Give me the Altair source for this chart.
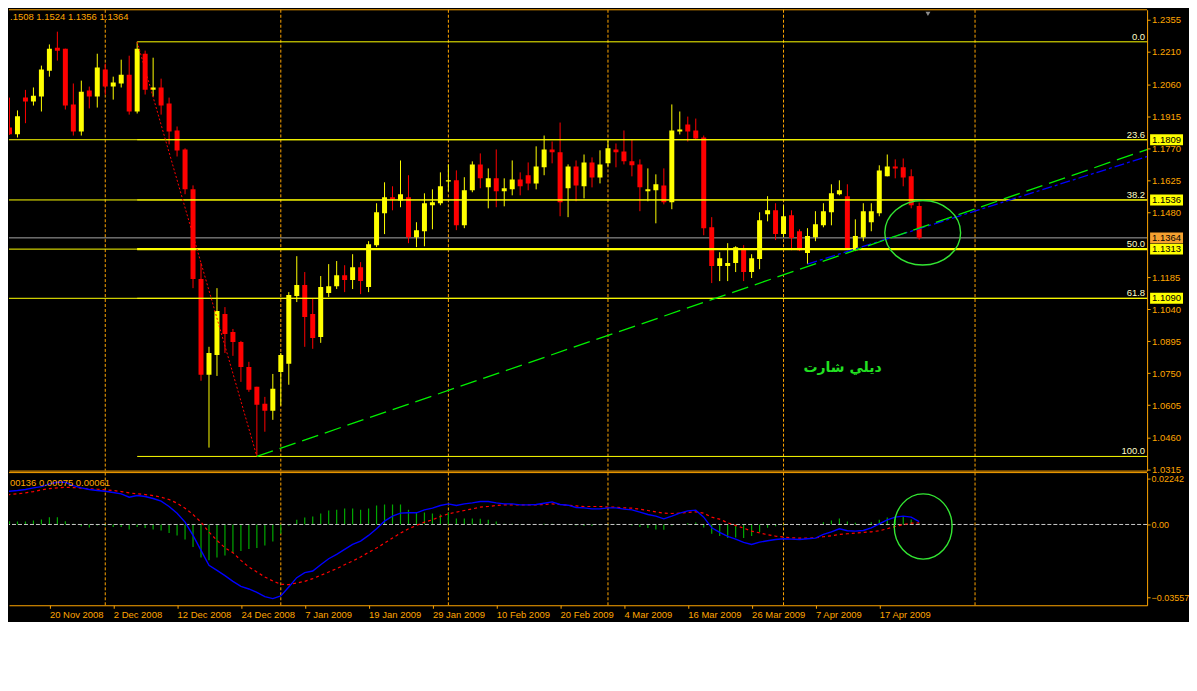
import altair as alt
import pandas as pd

ORANGE = "#FFA500"
YELLOW = "#FFFF00"
RED = "#FF0000"
GREEN = "#33E633"
FONT = "Liberation Sans"

# ---------------- data ----------------
dates = [d for d in pd.bdate_range("2008-11-12", "2009-04-24")
         if d.strftime("%m-%d") not in ("12-25", "01-01")]

opens = [
    1.1880, 1.1865, 1.1834, 1.2000, 1.1982, 1.2005, 1.2122, 1.2226, 1.2222, 1.1969,
    1.1846, 1.2032, 1.2005, 1.2127, 1.2050, 1.2064, 1.2104, 1.1937, 1.2199, 1.2036,
    1.2046, 1.1973, 1.1851, 1.1765, 1.1584, 1.1177, 1.0743, 1.0833, 1.1019, 1.0937,
    1.0892, 1.0779, 1.0689, 1.0612, 1.0580, 1.0756, 1.0793, 1.1100, 1.1150, 1.1019,
    1.0915, 1.1114, 1.1145, 1.1195, 1.1173, 1.1231, 1.1141, 1.1331, 1.1476, 1.1548,
    1.1534, 1.1548, 1.1367, 1.1394, 1.1512, 1.1521, 1.1620, 1.1625, 1.1421, 1.1580,
    1.1697, 1.1593, 1.1634, 1.1575, 1.1584, 1.1629, 1.1648, 1.1611, 1.1684, 1.1765,
    1.1752, 1.1589, 1.1688, 1.1598, 1.1706, 1.1638, 1.1702, 1.1765, 1.1756, 1.1711,
    1.1697, 1.1575, 1.1580, 1.1602, 1.1525, 1.1846, 1.1878, 1.1851, 1.1819, 1.1412,
    1.1236, 1.1236, 1.1250, 1.1317, 1.1209, 1.1268, 1.1471, 1.1489, 1.1381, 1.1467,
    1.1394, 1.1295, 1.1367, 1.1421, 1.1480, 1.1562, 1.1553, 1.1308, 1.1367, 1.1435,
    1.1476, 1.1643, 1.1688, 1.1684, 1.1643, 1.1508]
highs = [
    1.1900, 1.2000, 1.1942, 1.2035, 1.2046, 1.2145, 1.2241, 1.2299, 1.2222, 1.2064,
    1.2077, 1.2050, 1.2199, 1.2154, 1.2095, 1.2172, 1.2190, 1.2253, 1.2213, 1.2181,
    1.2086, 1.2000, 1.1869, 1.1770, 1.1602, 1.1250, 1.0870, 1.1136, 1.1050, 1.0951,
    1.0897, 1.0802, 1.0689, 1.0643, 1.0747, 1.0842, 1.1118, 1.1281, 1.1209, 1.1087,
    1.1191, 1.1245, 1.1259, 1.1240, 1.1290, 1.1254, 1.1349, 1.1521, 1.1616, 1.1598,
    1.1715, 1.1648, 1.1435, 1.1566, 1.1584, 1.1661, 1.1697, 1.1670, 1.1639, 1.1711,
    1.1747, 1.1679, 1.1765, 1.1634, 1.1715, 1.1661, 1.1706, 1.1779, 1.1828, 1.1801,
    1.1887, 1.1697, 1.1715, 1.1742, 1.1729, 1.1761, 1.1806, 1.1792, 1.1851, 1.1810,
    1.1720, 1.1679, 1.1652, 1.1679, 1.1969, 1.1937, 1.1914, 1.1905, 1.1828, 1.1458,
    1.1299, 1.1340, 1.1326, 1.1331, 1.1290, 1.1480, 1.1553, 1.1521, 1.1512, 1.1489,
    1.1403, 1.1408, 1.1485, 1.1521, 1.1607, 1.1625, 1.1607, 1.1448, 1.1521, 1.1521,
    1.1693, 1.1742, 1.1720, 1.1724, 1.1675, 1.1524]
lows = [
    1.1756, 1.1831, 1.1819, 1.1884, 1.1964, 1.1937, 1.2095, 1.2168, 1.1946, 1.1828,
    1.1828, 1.1951, 1.1955, 1.2014, 1.1991, 1.2046, 1.1923, 1.1928, 1.2014, 1.2005,
    1.1923, 1.1788, 1.1733, 1.1562, 1.1136, 1.0716, 1.0413, 1.0738, 1.0842, 1.0829,
    1.0711, 1.0666, 1.0373, 1.0485, 1.0539, 1.0603, 1.0698, 1.1073, 1.0870, 1.0861,
    1.0888, 1.1096, 1.1132, 1.1118, 1.1132, 1.1109, 1.1118, 1.1322, 1.1381, 1.1489,
    1.1503, 1.1340, 1.1322, 1.1326, 1.1403, 1.1512, 1.1575, 1.1399, 1.1408, 1.1571,
    1.1589, 1.1498, 1.1503, 1.1507, 1.1557, 1.1557, 1.1580, 1.1584, 1.1648, 1.1702,
    1.1462, 1.1458, 1.1530, 1.1543, 1.1593, 1.1611, 1.1688, 1.1684, 1.1697, 1.1643,
    1.1485, 1.1530, 1.1430, 1.1516, 1.1494, 1.1833, 1.1801, 1.1810, 1.1376, 1.1159,
    1.1168, 1.1168, 1.1209, 1.1168, 1.1182, 1.1222, 1.1439, 1.1354, 1.1367, 1.1308,
    1.1304, 1.1245, 1.1349, 1.1412, 1.1421, 1.1557, 1.1308, 1.1304, 1.1349, 1.1394,
    1.1462, 1.1643, 1.1634, 1.1598, 1.1498, 1.1356]
closes = [
    1.1862, 1.1834, 1.1915, 1.1982, 1.2009, 1.2127, 1.2222, 1.2213, 1.1964, 1.1846,
    1.2027, 1.2005, 1.2136, 1.2050, 1.2068, 1.2104, 1.1937, 1.2222, 1.2036, 1.2046,
    1.1964, 1.1846, 1.1760, 1.1584, 1.1177, 1.0743, 1.0842, 1.1032, 1.0928, 1.0892,
    1.0779, 1.0675, 1.0607, 1.0580, 1.0680, 1.0833, 1.1105, 1.1150, 1.1005, 1.0910,
    1.1141, 1.1145, 1.1195, 1.1173, 1.1231, 1.1168, 1.1335, 1.1480, 1.1548, 1.1539,
    1.1562, 1.1367, 1.1399, 1.1521, 1.1525, 1.1598, 1.1625, 1.1421, 1.1580, 1.1697,
    1.1634, 1.1634, 1.1575, 1.1589, 1.1629, 1.1598, 1.1611, 1.1688, 1.1765, 1.1752,
    1.1525, 1.1688, 1.1602, 1.1706, 1.1638, 1.1697, 1.1770, 1.1752, 1.1711, 1.1693,
    1.1593, 1.1584, 1.1607, 1.1525, 1.1851, 1.1855, 1.1846, 1.1815, 1.1408, 1.1236,
    1.1272, 1.1250, 1.1322, 1.1209, 1.1272, 1.1444, 1.1489, 1.1381, 1.1462, 1.1363,
    1.1308, 1.1372, 1.1426, 1.1485, 1.1566, 1.1580, 1.1313, 1.1372, 1.1485, 1.1485,
    1.1670, 1.1688, 1.1679, 1.1638, 1.1512, 1.1364]

macd = [
    0.01614, 0.01630, 0.01663, 0.01712, 0.01793, 0.01858, 0.01989, 0.02070, 0.02070, 0.01907,
    0.01793, 0.01712, 0.01663, 0.01630, 0.01565, 0.01500, 0.01337, 0.01418, 0.01369, 0.01271,
    0.01141, 0.00880, 0.00554, 0.00114, -0.00538, -0.01271, -0.02005, -0.02249, -0.02510, -0.02787,
    -0.03032, -0.03162, -0.03325, -0.03537, -0.03635, -0.03505, -0.03064, -0.02608, -0.02364, -0.02282,
    -0.01972, -0.01679, -0.01467, -0.01223, -0.00978, -0.00815, -0.00538, -0.00212, 0.00163, 0.00408,
    0.00554, 0.00571, 0.00571, 0.00717, 0.00799, 0.00929, 0.01011, 0.00929, 0.01011, 0.01060,
    0.01125, 0.01125, 0.01060, 0.01011, 0.01011, 0.00962, 0.00962, 0.00978, 0.01043, 0.01108,
    0.00978, 0.00945, 0.00831, 0.00815, 0.00766, 0.00766, 0.00815, 0.00815, 0.00750, 0.00717,
    0.00603, 0.00489, 0.00408, 0.00277, 0.00408, 0.00554, 0.00668, 0.00701, 0.00359, -0.00163,
    -0.00391, -0.00587, -0.00717, -0.00880, -0.00978, -0.00864, -0.00799, -0.00734, -0.00701, -0.00717,
    -0.00734, -0.00701, -0.00668, -0.00489, -0.00359, -0.00212, -0.00310, -0.00326, -0.00293, -0.00163,
    0.00033, 0.00228, 0.00359, 0.00408, 0.00359, 0.00136]
signal = [
    0.01418, 0.01467, 0.01500, 0.01549, 0.01614, 0.01695, 0.01760, 0.01793, 0.01826, 0.01809,
    0.01777, 0.01744, 0.01728, 0.01695, 0.01663, 0.01614, 0.01549, 0.01500, 0.01467, 0.01418,
    0.01337, 0.01223, 0.01043, 0.00799, 0.00489, 0.00114, -0.00375, -0.00782, -0.01141, -0.01386,
    -0.01760, -0.02086, -0.02331, -0.02575, -0.02771, -0.02934, -0.02950, -0.02869, -0.02787, -0.02657,
    -0.02494, -0.02331, -0.02168, -0.01972, -0.01793, -0.01597, -0.01369, -0.01157, -0.00913, -0.00668,
    -0.00424, -0.00212, -0.00049, 0.00114, 0.00228, 0.00391, 0.00522, 0.00603, 0.00685, 0.00766,
    0.00848, 0.00880, 0.00929, 0.00962, 0.00962, 0.00962, 0.00962, 0.00962, 0.00978, 0.01011,
    0.00978, 0.00945, 0.00913, 0.00880, 0.00880, 0.00880, 0.00848, 0.00848, 0.00815, 0.00799,
    0.00750, 0.00685, 0.00619, 0.00554, 0.00538, 0.00554, 0.00587, 0.00619, 0.00554, 0.00359,
    0.00261, 0.00082, -0.00049, -0.00179, -0.00326, -0.00408, -0.00505, -0.00571, -0.00619, -0.00652,
    -0.00668, -0.00668, -0.00652, -0.00603, -0.00554, -0.00489, -0.00456, -0.00424, -0.00391, -0.00359,
    -0.00310, -0.00212, -0.00098, 0.00000, 0.00065, 0.00075]
hist = [
    0.00196, 0.00163, 0.00147, 0.00147, 0.00196, 0.00245, 0.00359, 0.00359, 0.00163, 0.00033,
    -0.00082, -0.00147, -0.00049, -0.00065, -0.00130, -0.00130, -0.00245, -0.00130, -0.00179, -0.00245,
    -0.00293, -0.00424, -0.00538, -0.00734, -0.01108, -0.01614, -0.01760, -0.01614, -0.01516, -0.01402,
    -0.01304, -0.01206, -0.01157, -0.01027, -0.00831, -0.00456, -0.00065, 0.00228, 0.00342, 0.00391,
    0.00538, 0.00685, 0.00717, 0.00782, 0.00782, 0.00717, 0.00782, 0.00929, 0.00978, 0.00978,
    0.00978, 0.00717, 0.00587, 0.00587, 0.00538, 0.00489, 0.00587, 0.00293, 0.00293, 0.00293,
    0.00277, 0.00228, 0.00147, 0.00033, 0.00033, 0.00016, 0.00000, 0.00000, 0.00033, 0.00033,
    -0.00016, -0.00016, -0.00049, -0.00065, -0.00065, -0.00033, -0.00033, -0.00016, -0.00016, -0.00049,
    -0.00130, -0.00179, -0.00245, -0.00261, -0.00049, 0.00000, 0.00065, 0.00098, -0.00147, -0.00456,
    -0.00571, -0.00668, -0.00636, -0.00668, -0.00571, -0.00375, -0.00163, -0.00082, -0.00033, 0.00000,
    -0.00033, 0.00000, 0.00000, 0.00114, 0.00196, 0.00293, 0.00147, 0.00082, 0.00000, 0.00114,
    0.00228, 0.00342, 0.00300, 0.00408, 0.00245, 0.00061]

# Fibonacci retracement (anchored on bar 17 high -> bar 32 low)
fib_levels = ["0.0", "23.6", "38.2", "50.0", "61.8", "100.0"]
fib_prices = [1.2253, 1.1809, 1.1536, 1.1313, 1.1090, 1.0373]
fib_anchor_bars = [17, 32]
# user horizontal lines
hline_prices = [1.1809, 1.1536, 1.1313, 1.1090]
current_price = 1.1364
last_ohlc = [1.1508, 1.1524, 1.1356, 1.1364]
last_macd = [0.00136, 0.00075, 0.00061]
# trend lines (bar index, price)
green_bars = [32, 144]
green_prices = [1.0373, 1.1770]
blue_bars = [101, 144]
blue_prices = [1.1245, 1.1738]
# month separators (bar index)
grid_bars = [13, 35, 56, 76, 98, 122]
# x labels every 8 bars
label_bars = list(range(6, 111, 8))
label_text = [f"{dates[b].day} {dates[b].strftime('%b %Y')}" for b in label_bars]
price_ticks = [1.2355, 1.2210, 1.2060, 1.1915, 1.1770, 1.1625, 1.1480,
               1.1185, 1.1040, 1.0895, 1.0750, 1.0605, 1.0460, 1.0315]
macd_ticks = [0.02242, 0.0, -0.03557]

df = pd.DataFrame({"i": list(range(len(dates))), "open": opens, "high": highs,
                   "low": lows, "close": closes, "macd": macd, "signal": signal,
                   "hist": hist})
df["dir"] = ["up" if c >= o else "down" for o, c in zip(opens, closes)]
df["zero"] = 0.0

# ---------------- layout ----------------
W = 1141
H_MAIN = 462
H_MACD = 133
X0 = 0.9375
xs = alt.Scale(domain=[X0, X0 + W / 8.0], nice=False, zero=False)
ys = alt.Scale(domain=[1.030869, 1.23983], nice=False, zero=False)
ms = alt.Scale(domain=[-0.03961, 0.02543], nice=False, zero=False)

xaxis_main = alt.Axis(labels=False, ticks=False, domain=True, domainColor=ORANGE,
                      grid=False, title=None)
yaxis_main = alt.Axis(orient="right", values=price_ticks, format=".4f",
                      labelColor=ORANGE, labelFont=FONT, labelFontSize=9.5,
                      tickColor=ORANGE, tickSize=3, labelPadding=1.5,
                      domainColor=ORANGE, grid=False, title=None, labelOverlap=False)
label_js = "[" + ",".join(f"'{t}'" for t in label_text) + "]"
xaxis_macd = alt.Axis(values=label_bars, labelExpr=f"{label_js}[round((datum.value-6)/8)]",
                      labelAlign="left", labelBaseline="top", labelColor=ORANGE,
                      labelFont=FONT, labelFontSize=9.5, tickColor=ORANGE, tickSize=3,
                      labelPadding=1, domainColor=ORANGE, labelFlush=False,
                      labelOverlap=False, grid=False, title=None)
yaxis_macd = alt.Axis(orient="right", values=macd_ticks,
                      labelExpr="datum.value == 0 ? '0.00' : format(datum.value, '.5f')",
                      labelColor=ORANGE, labelFont=FONT, labelFontSize=9,
                      tickColor=ORANGE, tickSize=3, labelPadding=1,
                      domainColor=ORANGE, grid=False, title=None, labelOverlap=False)

XM = lambda f="i": alt.X(f"{f}:Q", scale=xs, axis=xaxis_main)
YM = lambda f="price": alt.Y(f"{f}:Q", scale=ys, axis=yaxis_main)
XB = lambda f="i": alt.X(f"{f}:Q", scale=xs, axis=xaxis_macd)
YB = lambda f: alt.Y(f"{f}:Q", scale=ms, axis=yaxis_macd)
dir_color = alt.Color("dir:N", scale=alt.Scale(domain=["up", "down"], range=[YELLOW, RED]),
                      legend=None)

grid_df = pd.DataFrame({"i": grid_bars})

# ---- main panel ----
vgrid = alt.Chart(grid_df).mark_rule(color=ORANGE, strokeDash=[3, 2], strokeWidth=1).encode(x=XM())
hlines = alt.Chart(pd.DataFrame({"price": hline_prices})).mark_rule(
    color=YELLOW, strokeWidth=1).encode(y=YM())
cur_line = alt.Chart(pd.DataFrame({"price": [current_price]})).mark_rule(
    color="#A8A8A8", strokeWidth=1).encode(y=YM())
fib_df = pd.DataFrame({"level": fib_levels, "price": fib_prices,
                       "start": [fib_anchor_bars[0]] * len(fib_levels)})
fib_lines = alt.Chart(fib_df).mark_rule(color=YELLOW, strokeWidth=1).encode(
    x=XM("start"), x2=alt.value(W), y=YM())
fib50 = alt.Chart(fib_df[fib_df.level == "50.0"]).mark_rule(color=YELLOW, strokeWidth=2.2).encode(
    x=XM("start"), x2=alt.value(W), y=YM())
fib_trend = alt.Chart(pd.DataFrame({"i": fib_anchor_bars, "price": [fib_prices[0], fib_prices[-1]]})
                      ).mark_line(color=RED, strokeDash=[2, 2], strokeWidth=1, clip=True).encode(
    x=XM(), y=YM())
wicks = alt.Chart(df).mark_rule(strokeWidth=1, clip=True).encode(
    x=XM(), y=YM("low"), y2="high:Q", color=dir_color)
bodies = alt.Chart(df).mark_rule(strokeWidth=5, clip=True).encode(
    x=XM(), y=YM("open"), y2="close:Q", color=dir_color)
blue_tr = alt.Chart(pd.DataFrame({"i": blue_bars, "price": blue_prices})).mark_line(
    color="#0000FF", strokeDash=[10, 3, 3, 3], strokeWidth=1.3, clip=True).encode(x=XM(), y=YM())
green_tr = alt.Chart(pd.DataFrame({"i": green_bars, "price": green_prices})).mark_line(
    color="#00F000", strokeDash=[17, 7], strokeWidth=1.3, clip=True).encode(x=XM(), y=YM())
ell_main = alt.Chart(pd.DataFrame({"i": [115.44], "price": [1.1387]})).mark_point(
    shape="M-1,0A1,0.851,0,1,1,1,0A1,0.851,0,1,1,-1,0Z", size=5776, filled=False,
    color=GREEN, strokeWidth=1.4, opacity=1).encode(x=XM(), y=YM())
arabic = alt.Chart(pd.DataFrame({"i": [105.4], "price": [1.0775], "t": ["ديلي شارت"]})).mark_text(
    font="DejaVu Sans", fontSize=14, fontWeight="bold", color="#22E022", align="center",
    baseline="middle").encode(x=XM(), y=YM(), text="t:N")
fib_txt = alt.Chart(fib_df).mark_text(font=FONT, fontSize=9.5, color="#FFFFC8", align="right",
                                      baseline="alphabetic", dy=-2).encode(
    x=alt.value(W - 2), y=YM(), text="level:N")
box_df = pd.DataFrame({"price": hline_prices, "t": [f"{p:.4f}" for p in hline_prices]})
rect_shape = "M-1,-0.3333H1V0.3333H-1Z"
boxes = alt.Chart(box_df).mark_point(shape=rect_shape, size=1089, filled=True, color=YELLOW,
                                     opacity=1, strokeWidth=0).encode(x=alt.value(W + 19.5), y=YM())
box_txt = alt.Chart(box_df).mark_text(font=FONT, fontSize=9.5, color="#000000", align="left",
                                      baseline="middle").encode(x=alt.value(W + 5), y=YM(), text="t:N")
cur_df = pd.DataFrame({"price": [current_price], "t": [f"{current_price:.4f}"]})
cur_box = alt.Chart(cur_df).mark_point(shape=rect_shape, size=1089, filled=True, color="#F5A030",
                                       opacity=1, strokeWidth=0).encode(x=alt.value(W + 19.5), y=YM())
cur_txt = alt.Chart(cur_df).mark_text(font=FONT, fontSize=9.5, color="#000000", align="left",
                                      baseline="middle").encode(x=alt.value(W + 5), y=YM(), text="t:N")
ohlc_txt = alt.Chart(pd.DataFrame({"t": [" ".join(f"{v:.4f}" for v in last_ohlc)[1:]]})).mark_text(
    font=FONT, fontSize=9.5, color=ORANGE, align="left", baseline="alphabetic").encode(
    x=alt.value(1), y=alt.value(10.5), text="t:N")
top_border = alt.Chart(pd.DataFrame({"a": [0]})).mark_rule(color=ORANGE, strokeWidth=1).encode(
    x=alt.value(0), x2=alt.value(W), y=alt.value(0))
shift_mark = alt.Chart(pd.DataFrame({"i": [116.1]})).mark_point(
    shape="triangle-down", filled=True, size=24, color="#8C8C8C", opacity=1).encode(
    x=XM(), y=alt.value(4))

main = alt.layer(vgrid, cur_line, wicks, bodies, hlines, fib_lines, fib50, fib_trend,
                 blue_tr, green_tr, ell_main, arabic, fib_txt, boxes, box_txt, cur_box, cur_txt,
                 ohlc_txt, top_border, shift_mark).properties(width=W, height=H_MAIN)

# ---- MACD panel ----
vgrid_b = alt.Chart(grid_df).mark_rule(color=ORANGE, strokeDash=[3, 2], strokeWidth=1).encode(x=XB())
hist_l = alt.Chart(df).mark_rule(color="#00A800", strokeWidth=1.2, clip=True).encode(
    x=XB(), y=YB("hist"), y2="zero:Q")
zero_l = alt.Chart(pd.DataFrame({"v": [0.0]})).mark_rule(
    color="#C8C8C8", strokeDash=[4, 2], strokeWidth=1).encode(y=YB("v"))
sig_l = alt.Chart(df).mark_line(color=RED, strokeDash=[3, 3], strokeWidth=1.2, clip=True).encode(
    x=XB(), y=YB("signal"))
macd_l = alt.Chart(df).mark_line(color="#0000FF", strokeWidth=1.4, clip=True).encode(
    x=XB(), y=YB("macd"))
ell_macd = alt.Chart(pd.DataFrame({"i": [115.5], "v": [-0.00098]})).mark_point(
    shape="M-0.887,0A0.887,1,0,1,1,0.887,0A0.887,1,0,1,1,-0.887,0Z", size=4277, filled=False,
    color=GREEN, strokeWidth=1.4, opacity=1).encode(x=XB(), y=YB("v"))
macd_txt = alt.Chart(pd.DataFrame({"t": [" ".join(f"{v:.5f}" for v in last_macd)[2:]]})).mark_text(
    font=FONT, fontSize=9.5, color=ORANGE, align="left", baseline="alphabetic").encode(
    x=alt.value(1), y=alt.value(13.5), text="t:N")
top_border_b = alt.Chart(pd.DataFrame({"a": [0]})).mark_rule(color=ORANGE, strokeWidth=1).encode(
    x=alt.value(0), x2=alt.value(W), y=alt.value(0))

macd_panel = alt.layer(vgrid_b, hist_l, zero_l, sig_l, macd_l, ell_macd, macd_txt,
                       top_border_b).properties(width=W, height=H_MACD)

chart = alt.vconcat(main, macd_panel, spacing=2, bounds="flush").properties(
    background="#000000",
    padding={"left": 0, "top": 0, "right": 0, "bottom": 2},
).configure_view(strokeWidth=0)

chart.save("out.html", embed_options={"renderer": "svg", "actions": False})
